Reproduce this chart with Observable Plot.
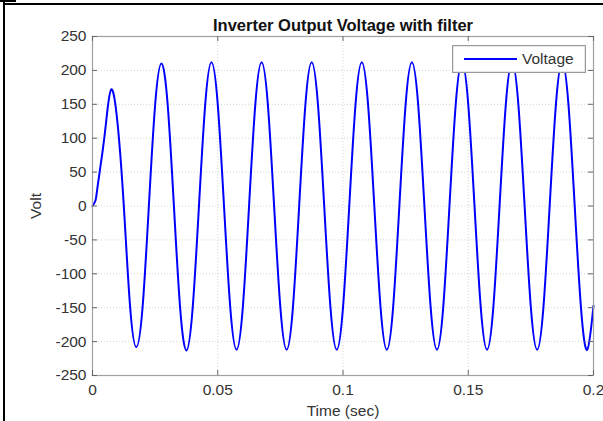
<!DOCTYPE html>
<html>
<head>
<meta charset="utf-8">
<script src="https://cdn.jsdelivr.net/npm/d3@7"></script>
<script src="https://cdn.jsdelivr.net/npm/@observablehq/plot@0.6"></script>
<style>
  html, body { margin: 0; padding: 0; background: #fff; }
  #wrap { position: relative; width: 603px; height: 421px; overflow: hidden; font-family: "Liberation Sans", Arial, sans-serif; }
  .edge { position: absolute; background: #000; }
  #legend { position: absolute; left: 452px; top: 45px; width: 132px; height: 26px; background: #fff; border: 1px solid #9a9a9a; box-shadow: inset 0 0 0 1px #e6e6e6; }
  #legend svg { position: absolute; left: 0; top: 0; }
  #legend span { position: absolute; left: 69px; top: 4px; font-size: 15.5px; color: #333; }
</style>
</head>
<body>
<div id="wrap"></div>
<script>
// ---- data ----
const times = [
  0, 0.0012, 0.002, 0.004, 0.0055, 0.0075, 0.01,
  0.0125, 0.015, 0.0175, 0.02, 0.0225, 0.025, 0.0275, 0.03,
  0.0325, 0.035, 0.0375, 0.04, 0.0425, 0.045, 0.0475, 0.05,
  0.0525, 0.055, 0.0575, 0.06, 0.0625, 0.065, 0.0675, 0.07,
  0.0725, 0.075, 0.0775, 0.08, 0.0825, 0.085, 0.0875, 0.09,
  0.0925, 0.095, 0.0975, 0.1, 0.1025, 0.105, 0.1075, 0.11,
  0.1125, 0.115, 0.1175, 0.12, 0.1225, 0.125, 0.1275, 0.13,
  0.1325, 0.135, 0.1375, 0.14, 0.1425, 0.145, 0.1475, 0.15,
  0.1525, 0.155, 0.1575, 0.16, 0.1625, 0.165, 0.1675, 0.17,
  0.1725, 0.175, 0.1775, 0.18, 0.1825, 0.185, 0.1875, 0.19,
  0.1925, 0.195, 0.1975, 0.2
];
const volts = [
  0, 8, 28, 80, 126, 172, 122,
  0, -148, -208, -149, 0, 149, 210, 150,
  0, -151, -213, -150, 0, 150, 212, 150,
  0, -150, -212, -150, 0, 150, 212, 150,
  0, -150, -212, -150, 0, 150, 212, 150,
  0, -150, -212, -150, 0, 150, 212, 150,
  0, -150, -212, -150, 0, 150, 212, 150,
  0, -150, -212, -150, 0, 150, 212, 150,
  0, -150, -212, -150, 0, 150, 212, 150,
  0, -150, -212, -150, 0, 150, 212, 150,
  0, -150, -212, -147
];
const xTicks = [0, 0.05, 0.1, 0.15, 0.2];
const xTickLabels = ["0", "0.05", "0.1", "0.15", "0.2"];
const yTicks = [-250, -200, -150, -100, -50, 0, 50, 100, 150, 200, 250];
const titleText = "Inverter Output Voltage with filter";
const xLabel = "Time (sec)";
const yLabel = "Volt";
const seriesName = "Voltage";

const data = times.map((t, i) => ({t, v: volts[i]}));

const W = 603, H = 421, mL = 92, mR = 10, mT = 36, mB = 46;
const innerW = W - mL - mR, innerH = H - mT - mB;
const tickLen = 5;
const grid = {stroke: "#d4d4d4", strokeOpacity: 1, strokeDasharray: "1,2", strokeWidth: 1};
const tickStyle = {stroke: "#666", strokeWidth: 1};

const chart = Plot.plot({
  width: W, height: H,
  marginLeft: mL, marginRight: mR, marginTop: mT, marginBottom: mB,
  style: {fontFamily: '"Liberation Sans", Arial, sans-serif', fontSize: "15px", color: "#333", background: "transparent"},
  x: {domain: [0, 0.2]},
  y: {domain: [-250, 250]},
  marks: [
    Plot.gridX(xTicks, grid),
    Plot.gridY(yTicks, grid),
    Plot.line(data, {x: "t", y: "v", stroke: "#0000ff", strokeWidth: 2, curve: "natural"}),
    Plot.frame({stroke: "#a0a0a0", strokeWidth: 1.2}),
    Plot.tickX(xTicks, {x: d => d, insetTop: innerH - tickLen, ...tickStyle}),
    Plot.tickX(xTicks, {x: d => d, insetBottom: innerH - tickLen, ...tickStyle}),
    Plot.tickY(yTicks, {y: d => d, insetLeft: innerW - tickLen, ...tickStyle}),
    Plot.tickY(yTicks, {y: d => d, insetRight: innerW - tickLen, ...tickStyle}),
    Plot.axisX(xTicks, {tickSize: 0, tickPadding: 8, fontSize: 15.5, fill: "#333",
      tickFormat: (d, i) => xTickLabels[i],
      label: xLabel, labelAnchor: "center", labelArrow: "none", labelOffset: 40}),
    Plot.axisY(yTicks, {tickSize: 0, tickPadding: 6, fontSize: 15.5, fill: "#333",
      tickFormat: d => String(d),
      label: yLabel, labelAnchor: "center", labelArrow: "none", labelOffset: 63}),
    Plot.text([titleText], {text: d => d, frameAnchor: "top", dy: -17, fontSize: 16.5, fontWeight: "bold", fill: "#111"})
  ]
});

const wrap = document.getElementById("wrap");
wrap.appendChild(chart);
chart.style.position = "absolute";
chart.style.left = "0px";
chart.style.top = "0px";

// page frame edges
[[3, 0, 2, H], [3, 3, W, 2], [0, 0, 16, 2]].forEach(([l, t, w, h]) => {
  const e = document.createElement("div");
  e.className = "edge";
  Object.assign(e.style, {left: l + "px", top: t + "px", width: w + "px", height: h + "px"});
  wrap.appendChild(e);
});

// legend
const lg = document.createElement("div");
lg.id = "legend";
lg.innerHTML = `<svg width="132" height="26"><line x1="11" x2="64" y1="13" y2="13" stroke="#0000ff" stroke-width="2"/></svg><span>${seriesName}</span>`;
wrap.appendChild(lg);
</script>
</body>
</html>
